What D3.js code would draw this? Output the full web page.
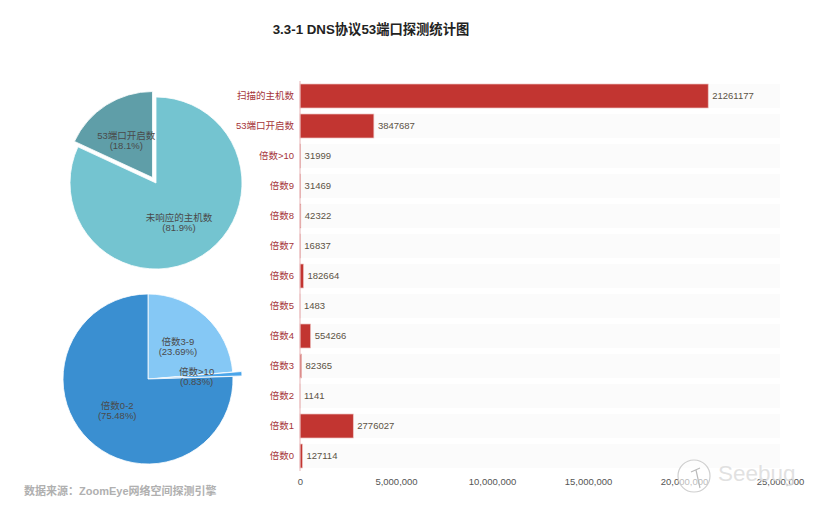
<!DOCTYPE html>
<html>
<head>
<meta charset="utf-8">
<script src="https://cdnjs.cloudflare.com/ajax/libs/d3/7.8.5/d3.min.js"></script>
<style>
  html, body { margin: 0; background: #fff; }
  svg { display: block; }
  text { font-family: "Liberation Sans", "Noto Sans CJK SC", sans-serif; }
</style>
</head>
<body>
<svg id="chart" width="826" height="505"></svg>
<script>
var categories = ["扫描的主机数", "53端口开启数", "倍数>10", "倍数9", "倍数8", "倍数7", "倍数6", "倍数5", "倍数4", "倍数3", "倍数2", "倍数1", "倍数0"];
var counts = [21261177, 3847687, 31999, 31469, 42322, 16837, 182664, 1483, 554266, 82365, 1141, 2776027, 127114];
var axisTicks = [0, 5000000, 10000000, 15000000, 20000000, 25000000];

var hostNames = ["未响应的主机数", "53端口开启数"];
var hostValues = [81.9, 18.1];
var hostLabels = ["(81.9%)", "(18.1%)"];
var hostColors = ["#74c4d0", "#5f9ea8"];
var hostExplode = [0, 6.5];

var ratioNames = ["倍数3-9", "倍数>10", "倍数0-2"];
var ratioValues = [23.69, 0.83, 75.48];
var ratioLabels = ["(23.69%)", "(0.83%)", "(75.48%)"];
var ratioColors = ["#85c8f5", "#4aa5ea", "#3a8fd1"];
var ratioExplode = [0, 9, 0];

var svg = d3.select("#chart");

svg.append("text")
    .attr("x", 371).attr("y", 34)
    .attr("text-anchor", "middle")
    .attr("font-size", 13.3).attr("font-weight", "bold")
    .attr("fill", "#222")
    .text("3.3-1 DNS协议53端口探测统计图");

// bars
var x = d3.scaleLinear().domain([0, 25000000]).range([300, 780]);
var y = d3.scaleBand().domain(categories).range([81, 471]).paddingInner(0.2).paddingOuter(0.1);

var rows = svg.append("g").selectAll("g")
    .data(categories)
  .enter().append("g");

rows.append("rect")
    .attr("x", x(0)).attr("y", d => y(d))
    .attr("width", x.range()[1] - x(0)).attr("height", y.bandwidth())
    .attr("fill", "#fbfbfb");

rows.append("rect")
    .attr("x", x(0)).attr("y", d => y(d))
    .attr("width", (d, i) => x(counts[i]) - x(0)).attr("height", y.bandwidth())
    .attr("fill", "#c23531")
    .attr("stroke", "#eec4c2").attr("stroke-width", 0.7);

rows.append("text")
    .attr("x", 294).attr("y", d => y(d) + y.bandwidth() / 2)
    .attr("dy", "0.35em")
    .attr("text-anchor", "end")
    .attr("font-size", 9.5).attr("fill", "#a5353a")
    .text(d => d);

rows.append("text")
    .attr("x", (d, i) => x(counts[i]) + 4)
    .attr("y", d => y(d) + y.bandwidth() / 2)
    .attr("dy", "0.35em")
    .attr("font-size", 9.5).attr("fill", "#5c5344")
    .text((d, i) => counts[i]);

svg.append("line")
    .attr("x1", x(0)).attr("x2", x(0))
    .attr("y1", 81).attr("y2", 471)
    .attr("stroke", "#e6b4b6");

var axis = svg.append("g")
    .attr("transform", "translate(0,475)")
    .call(d3.axisBottom(x).tickValues(axisTicks).tickSize(0).tickPadding(3).tickFormat(d3.format(",")));
axis.select(".domain").remove();
axis.selectAll("text").attr("font-size", 9.5).attr("fill", "#555")
    .style("font-family", "'Liberation Sans', sans-serif");

// pies
function drawPie(cx, cy, radius, names, values, labels, colors, explode, labelRatio, labelDx) {
  var slices = d3.pie().sort(null).value(d => d)(values);
  var arc = d3.arc().innerRadius(0).outerRadius(radius);
  var labelArc = d3.arc().innerRadius(radius * labelRatio).outerRadius(radius * labelRatio);
  var g = svg.append("g").attr("transform", "translate(" + cx + "," + cy + ")");

  function shift(d, i) {
    var a = (d.startAngle + d.endAngle) / 2;
    return [Math.sin(a) * explode[i], -Math.cos(a) * explode[i]];
  }

  g.selectAll("path")
      .data(slices)
    .enter().append("path")
      .attr("d", arc)
      .attr("transform", (d, i) => "translate(" + shift(d, i) + ")")
      .attr("fill", (d, i) => colors[i])
      .attr("stroke", "#fff").attr("stroke-width", 0.8);

  var text = g.selectAll("text")
      .data(slices)
    .enter().append("text")
      .attr("transform", (d, i) => {
        var c = labelArc.centroid(d), s = shift(d, i);
        return "translate(" + (c[0] + s[0] / 2 + labelDx) + "," + (c[1] + s[1] / 2) + ")";
      })
      .attr("text-anchor", "middle")
      .attr("font-size", 9.5).attr("fill", "#4a4a4a");
  text.append("tspan").attr("x", 0).attr("y", -1.5).text((d, i) => names[i]);
  text.append("tspan").attr("x", 0).attr("y", 8.5).text((d, i) => labels[i]);
}

drawPie(156, 183, 86, hostNames, hostValues, hostLabels, hostColors, hostExplode, 0.55, -2.5);
drawPie(148, 379, 85, ratioNames, ratioValues, ratioLabels, ratioColors, ratioExplode, 0.52, 0);

svg.append("text")
    .attr("x", 24).attr("y", 495)
    .attr("font-size", 11).attr("font-weight", "bold")
    .attr("fill", "#b0b0b0")
    .text("数据来源：ZoomEye网络空间探测引擎");

// watermark over the last ticks
var mark = svg.append("g");
mark.append("circle")
    .attr("cx", 694).attr("cy", 476).attr("r", 16)
    .attr("fill", "#fff").attr("fill-opacity", 0.6)
    .attr("stroke", "#cfcfcf").attr("stroke-width", 1.2);
mark.append("path")
    .attr("d", "M691 472L700 468M696 470L700 488")
    .attr("fill", "none").attr("stroke", "#bbb").attr("stroke-width", 1.2);
mark.append("text")
    .attr("x", 718).attr("y", 481)
    .attr("font-size", 22.5)
    .attr("fill", "#dcdcdc").attr("fill-opacity", 0.85)
    .text("Seebug");
</script>
</body>
</html>
